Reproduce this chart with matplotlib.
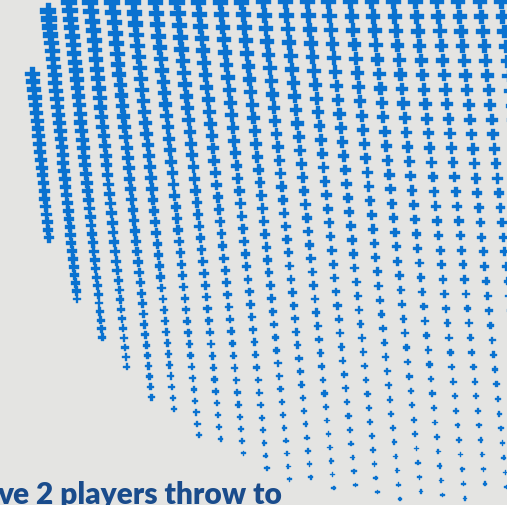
import numpy as np
import matplotlib
matplotlib.use("Agg")
import matplotlib.pyplot as plt

# halftone of plus marks: one entry per column (pixels, y measured from top)
col_x_top = [25, 47, 68.6, 90, 111.8, 133, 155, 176.6, 198, 220, 241.6, 263,
             285, 306.8, 328, 350, 371.6, 393, 415, 436.6, 458, 479.6, 501]
col_y_start = [75, 12, 3, 3, 3, 3, 3, 3, 3, 3, 3, 3,
               3, 3, 3, 3, 3, 3, 3, 3, 3, 3, 3]
col_y_end = [243, 307, 343, 374, 407, 417, 439, 448, 458, 478, 485, 490,
             495, 498, 500, 500, 500, 500, 500, 498, 495, 492, 490]
col_step = [7.8, 8.0, 8.6, 9.6, 10.4, 11.0, 11.4, 11.8, 12.2, 12.6, 12.9, 13.2,
            13.5, 13.8, 14.0, 14.2, 14.4, 14.5, 14.6, 14.6, 14.7, 14.7, 14.8]
col_scale = [1.0, 1.0, 1.0, 0.99, 0.99, 0.98, 0.97, 0.97, 0.96, 0.95, 0.95, 0.94,
             0.94, 0.93, 0.93, 0.92, 0.92, 0.91, 0.91, 0.9, 0.9, 0.9, 0.9]
slant = 0.1

# mark width (px) read at a few heights down the page
size_y = [0, 100, 200, 270, 350, 430, 500]
size_px = [16, 13.5, 11, 9.5, 7.8, 6.2, 5]

caption = "ve 2 players throw to"

W, H, DPI = 507, 506, 100
BLUE = "#0a72d0"
fig = plt.figure(figsize=(W / DPI, H / DPI), dpi=DPI, facecolor="#e4e4e2")
ax = fig.add_axes([0, 0, 1, 1])
ax.set_facecolor("#e4e4e2")
ax.set_xlim(0, W)
ax.set_ylim(H, 0)
ax.axis("off")

for x0, y0, y1, dy, sc in zip(col_x_top, col_y_start, col_y_end, col_step, col_scale):
    ys = np.arange(y0, y1 + 0.1, dy)
    xs = x0 + slant * ys
    sz = np.interp(ys, size_y, size_px) * sc * 72 / DPI
    ax.scatter(xs, ys, s=sz ** 2, marker="P", color=BLUE, edgecolors=BLUE,
               linewidths=0.25)

fig.text(-0.006, 1 - 504 / H, caption, fontsize=21.5, fontweight="heavy",
         family=["Lato", "DejaVu Sans"], color="#1a4c8c", ha="left", va="baseline")

fig.savefig("out.png", dpi=DPI, facecolor=fig.get_facecolor())
